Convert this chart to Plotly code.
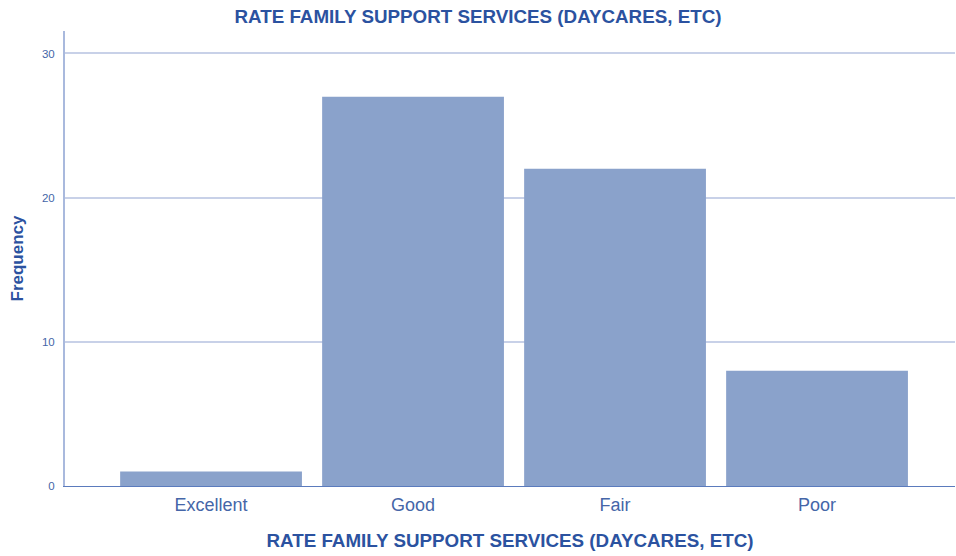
import plotly.graph_objects as go

categories = ["Excellent", "Good", "Fair", "Poor"]
frequency = [1, 27, 22, 8]
y_ticks = [0, 10, 20, 30]

title_text = "RATE FAMILY SUPPORT SERVICES (DAYCARES, ETC)"
dark = "#2b52a0"
tick_col = "#4566a8"

fig = go.Figure(go.Bar(
    x=categories, y=frequency,
    marker=dict(color="#8aa2cb", line=dict(width=0)),
    hoverinfo="x+y",
))

fig.update_layout(
    width=956, height=556,
    margin=dict(l=65, r=1, t=31, b=70),
    paper_bgcolor="white", plot_bgcolor="white",
    bargap=0.1,
    showlegend=False,
    font=dict(family="Liberation Sans, Arial, sans-serif", color=tick_col),
    title=dict(text="<b>" + title_text + "</b>", x=0.5, xanchor="center",
               y=1 - 16 / 556, yanchor="middle", yref="container",
               font=dict(size=18.8, color=dark)),
    xaxis=dict(
        range=[-0.723, 3.683],
        showgrid=False, showline=True, linecolor="#5b7bbd", linewidth=1,
        ticks="", tickfont=dict(size=18, color=tick_col), ticklabelstandoff=2,
        title=dict(text="<b>" + title_text + "</b>", font=dict(size=18.8, color=dark), standoff=20),
    ),
    yaxis=dict(
        range=[0, 31.56],
        tickvals=y_ticks, ticktext=[str(v) for v in y_ticks],
        showgrid=True, gridcolor="#c8d1e8", gridwidth=1.5,
        showline=True, linecolor="#a9b9dd", linewidth=2,
        zeroline=False,
        ticks="", tickfont=dict(size=11.5, color=tick_col), ticklabelstandoff=6,
        title=dict(text="<b>Frequency</b>", font=dict(size=17, color=dark), standoff=14),
    ),
)

fig.write_html("out.html", config={"displayModeBar": False},
               post_script="document.body.style.margin='0';document.body.style.padding='0';")
